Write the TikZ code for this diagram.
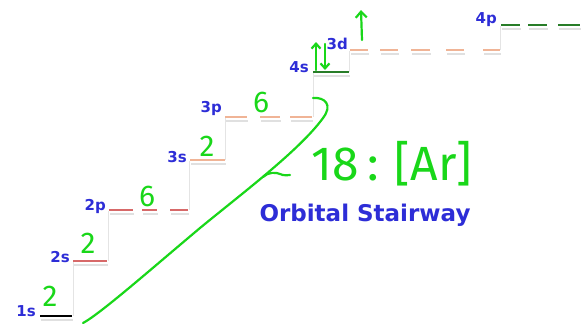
\documentclass[tikz,border=0pt]{standalone}
\usepackage{fontspec}
\setmainfont{Fira Sans}
\newfontfamily\hand{Fira Sans}
\newfontfamily\lblfont{DejaVu Sans}
\usetikzlibrary{arrows.meta}
\definecolor{lblue}{RGB}{45,45,215}
\definecolor{lred}{RGB}{215,105,105}
\definecolor{lpeach}{RGB}{240,180,150}
\definecolor{lgreen}{RGB}{40,125,40}
\definecolor{hgreen}{RGB}{25,215,25}
\definecolor{riser}{RGB}{228,228,228}
\tikzset{
  lvl/.style={line width=2.6pt},
  shadow/.style={line width=2pt, draw=black!12},
  riserline/.style={draw=riser, line width=0.8pt},
  lbl/.style={text=lblue, font=\lblfont\bfseries\fontsize{15}{15}\selectfont, inner sep=0pt},
  hw/.style={text=hgreen, font=\hand\fontsize{30}{30}\selectfont, inner sep=0pt},
  pen/.style={draw=hgreen, line width=2.2pt, line cap=round, line join=round},
}
\begin{document}
\begin{tikzpicture}[x=1pt,y=-1pt]
\useasboundingbox (0,0) rectangle (585,324);
\fill[white] (0,0) rectangle (585,324);
% risers
\draw[riserline] (73,262) -- (73,316);
\draw[riserline] (108,211) -- (108,261);
\draw[riserline] (189,161) -- (189,210);
\draw[riserline] (225,118) -- (225,160);
\draw[riserline] (313,73) -- (313,117);
\draw[riserline] (349,51) -- (349,72);
\draw[riserline] (500,26) -- (500,50);
% shadows
\foreach \a/\b/\y in {40/72/316, 73/107/261, 109/133/210, 142/157/210, 170/188/210, 190/225/160,
  225/247/117, 260/280/117, 290/312/117, 313/349/72, 350/368/50, 380/398/50, 411/430/50, 446/464/50,
  483/500/50, 501/520/25, 528/547/25, 558/580/25}
  \draw[shadow] (\a+1,\y+4) -- (\b+1,\y+4);
% levels
\draw[lvl, black] (40,316) -- (72,316);
\draw[lvl, lred] (73,261) -- (107,261);
\foreach \a/\b in {109/133, 142/157, 170/188} \draw[lvl, lred] (\a,210) -- (\b,210);
\draw[lvl, lpeach] (190,160) -- (225,160);
\foreach \a/\b in {225/247, 260/280, 290/312} \draw[lvl, lpeach] (\a,117) -- (\b,117);
\draw[lvl, lgreen] (313,72) -- (349,72);
\foreach \a/\b in {350/368, 380/398, 411/430, 446/464, 483/500} \draw[lvl, lpeach] (\a,50) -- (\b,50);
\foreach \a/\b in {501/520, 528/547, 558/580} \draw[lvl, lgreen] (\a,25) -- (\b,25);
% labels
\node[lbl, anchor=east] (l1s) at (36,311) {1s};
\node[lbl, anchor=east] (l2s) at (70,257) {2s};
\node[lbl, anchor=east] (l2p) at (106,206) {2p};
\node[lbl, anchor=east] (l3s) at (187,157) {3s};
\node[lbl, anchor=east] (l3p) at (222,108) {3p};
\node[lbl, anchor=east] (l4s) at (309,67) {4s};
\node[lbl, anchor=east] (l3d) at (348,44) {3d};
\node[lbl, anchor=east] (l4p) at (497,20) {4p};
\node[text=lblue, font=\lblfont\bfseries\fontsize{23}{23}\selectfont, inner sep=0pt] (title) at (365,215) {Orbital Stairway};
% handwriting
\node[hw] (n1s) at (50,296) {2};
\node[hw] (n2s) at (88,243) {2};
\node[hw] (n2p) at (147,196) {6};
\node[hw] (n3s) at (207,146) {2};
\node[hw] (n3p) at (261,102) {6};
\node[hw, font=\hand\fontsize{48}{48}\selectfont] (ar) at (392,164) {18\,:\,\,[Ar]};
\draw[pen, -{Straight Barb[length=5pt,width=9pt]}] (316,70) -- (316,42);
\draw[pen, -{Straight Barb[length=5pt,width=9pt]}] (325,44) -- (325,70);
\draw[pen, -{Straight Barb[length=6pt,width=11pt]}] (362,40) -- (361,10);
\coordinate (cs) at (83,323);
\coordinate (ce) at (313,98);
\draw[pen] (cs) .. controls (100,314) and (150,270) .. (200,228)
  .. controls (240,195) and (300,150) .. (323,118)
  .. controls (333,105) and (325,97) .. (ce);
\coordinate (t1) at (263,177);
\coordinate (t2) at (290,175);
\draw[pen] (t1) .. controls (268,172) and (276,172) .. (280,174) .. controls (284,176) and (288,175) .. (t2);
\end{tikzpicture}
\end{document}
